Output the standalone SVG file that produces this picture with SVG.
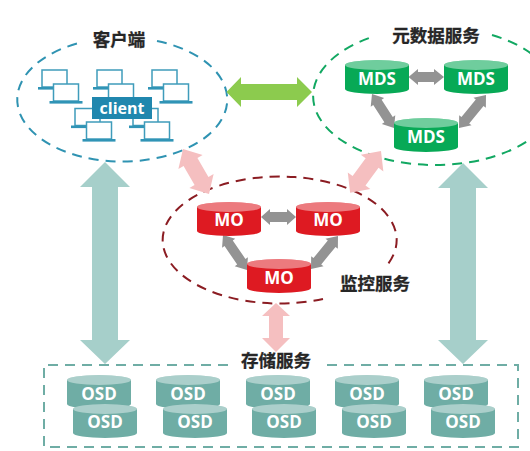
<svg xmlns="http://www.w3.org/2000/svg" width="530" height="451" viewBox="0 0 530 451">
<style>
.zone{fill:none;stroke-width:2;stroke-dasharray:10 7}
.title{font:bold 17.500px "Noto Sans CJK SC","Liberation Sans",sans-serif;fill:#262626;text-anchor:middle;stroke:#262626;stroke-width:.3}
.lbl{font:bold 17px "Open Sans","Noto Sans",sans-serif;fill:#fff;text-anchor:middle}
.mds{fill:#07a956}.mo{fill:#de1a22}.osd{fill:#6fada5}
.gray{fill:#939393}.pink{fill:#f5bfc0}.teal{fill:#a6cfca}.green{fill:#8ccb4e}
.scr{fill:#fff;stroke:#3f9cbb;stroke-width:1.500}.base{fill:#3094b6}
</style>
<defs>
<g id="cyl"><path d="M0,5V29A32,5 0 0 0 64,29V5A32,5 0 0 0 0,5Z"/><ellipse cx="32" cy="5" rx="32" ry="5" fill="#fff" fill-opacity=".42"/></g>
<g id="lap"><rect x="0" y="0" width="25" height="17" class="scr"/><rect x="-4" y="17" width="33" height="2.600" class="base"/></g>
</defs>
<g id="zones">
<path id="zone-client" class="zone" stroke="#2f93b2" d="M157,41A105,62 0 1 1 79,43"/>
<path id="zone-mds" class="zone" stroke="#12a862" d="M492,35A122,69 0 1 1 375,36"/>
<path id="zone-mo" class="zone" stroke="#8b1c22" d="M323,299A117,63.500 0 1 1 388,264"/>
<path id="zone-osd" class="zone" stroke="#6fada5" d="M228,365H44V447H518V365H323"/>
</g>
<g id="connectors">
<polygon class="green" points="226.500,92 241,77 241,84 297,84 297,77 312,92 297,107 297,100 241,100 241,107"/>
<polygon class="teal" points="105,162 130,187 118,187 118,340 130,340 105,364 80,340 92,340 92,187 80,187"/>
<polygon class="teal" points="463,163 488,188 476,188 476,340 488,340 463,364 438,340 450,340 450,188 438,188"/>
<polygon class="pink" points="276,303 290,316 283,316 283,338 290,338 276,352 262,338 269,338 269,316 262,316"/>
<polygon class="pink" transform="translate(183,149) rotate(60)" points="0,0 15,-14 15,-8 37,-8 37,-14 52,0 37,14 37,8 15,8 15,14"/>
<polygon class="pink" transform="translate(381,151) rotate(126.400)" points="0,0 15,-14 15,-8 37,-8 37,-14 52,0 37,14 37,8 15,8 15,14"/>
<polygon class="gray" points="408.500,77 418,69 418,72 434,72 434,69 444,77 434,85 434,82 418,82 418,85"/>
<polygon class="gray" points="261,217 270,209 270,212 287,212 287,209 296,217 287,225 287,222 270,222 270,225"/>
<polygon class="gray" transform="translate(372,94) rotate(57.100)" points="0,0 10,-8 10,-5 30.500,-5 30.500,-8 40.500,0 30.500,8 30.500,5 10,5 10,8"/>
<polygon class="gray" transform="translate(486,95) rotate(129.300)" points="0,0 10,-8 10,-5 32.600,-5 32.600,-8 42.600,0 32.600,8 32.600,5 10,5 10,8"/>
<polygon class="gray" transform="translate(223,235) rotate(55.600)" points="0,0 10,-8 10,-5 32.400,-5 32.400,-8 42.400,0 32.400,8 32.400,5 10,5 10,8"/>
<polygon class="gray" transform="translate(338,236) rotate(129.300)" points="0,0 10,-8 10,-5 32.600,-5 32.600,-8 42.600,0 32.600,8 32.600,5 10,5 10,8"/>
</g>
<g id="client">
<text class="title" x="119" y="46">客户端</text>
<use href="#lap" x="42" y="70"/><use href="#lap" x="53.500" y="84"/>
<use href="#lap" x="97" y="70"/><use href="#lap" x="108.500" y="84"/>
<use href="#lap" x="152" y="70"/><use href="#lap" x="163.500" y="84"/>
<use href="#lap" x="75" y="108.500"/><use href="#lap" x="86.500" y="122"/>
<use href="#lap" x="133" y="108.500"/><use href="#lap" x="144.500" y="122"/>
<rect x="92" y="97" width="60" height="22" fill="#2087ae"/>
<text class="lbl" x="122" y="114" style="font-size:16px">client</text>
</g>
<g id="mds-title"><text class="title" x="436" y="42">元数据服务</text></g>
<g id="mds1" class="mds"><use href="#cyl" x="345" y="60"/><text class="lbl" x="377" y="85">MDS</text></g>
<g id="mds2" class="mds"><use href="#cyl" x="444" y="60"/><text class="lbl" x="476" y="85">MDS</text></g>
<g id="mds3" class="mds"><use href="#cyl" x="394" y="118"/><text class="lbl" x="426" y="143">MDS</text></g>
<g id="mo1" class="mo"><use href="#cyl" x="197" y="202"/><text class="lbl" x="229" y="226">MO</text></g>
<g id="mo2" class="mo"><use href="#cyl" x="296" y="202"/><text class="lbl" x="328" y="226">MO</text></g>
<g id="mo3" class="mo"><use href="#cyl" x="247" y="259"/><text class="lbl" x="279" y="284">MO</text></g>
<g id="mo-title"><text class="title" x="375" y="290">监控服务</text></g>
<g id="osd-title"><text class="title" x="276" y="367">存储服务</text></g>
<g id="osd1a" class="osd"><use href="#cyl" x="67" y="375"/><text class="lbl" x="99" y="400">OSD</text></g>
<g id="osd2a" class="osd"><use href="#cyl" x="156" y="375"/><text class="lbl" x="188" y="400">OSD</text></g>
<g id="osd3a" class="osd"><use href="#cyl" x="246" y="375"/><text class="lbl" x="278" y="400">OSD</text></g>
<g id="osd4a" class="osd"><use href="#cyl" x="335" y="375"/><text class="lbl" x="367" y="400">OSD</text></g>
<g id="osd5a" class="osd"><use href="#cyl" x="424" y="375"/><text class="lbl" x="456" y="400">OSD</text></g>
<g id="osd1b" class="osd"><use href="#cyl" x="73" y="404"/><text class="lbl" x="105" y="428">OSD</text></g>
<g id="osd2b" class="osd"><use href="#cyl" x="163" y="404"/><text class="lbl" x="195" y="428">OSD</text></g>
<g id="osd3b" class="osd"><use href="#cyl" x="252" y="404"/><text class="lbl" x="284" y="428">OSD</text></g>
<g id="osd4b" class="osd"><use href="#cyl" x="342" y="404"/><text class="lbl" x="374" y="428">OSD</text></g>
<g id="osd5b" class="osd"><use href="#cyl" x="431" y="404"/><text class="lbl" x="463" y="428">OSD</text></g>
</svg>
